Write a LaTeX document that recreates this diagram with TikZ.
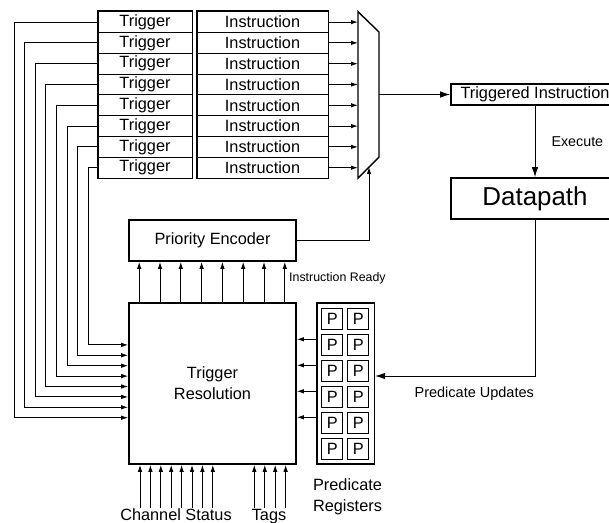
\documentclass[tikz,border=0pt]{standalone}
\usepackage{fontspec}
\setmainfont{Liberation Sans}
\usetikzlibrary{arrows.meta,calc}

\begin{document}
\begin{tikzpicture}[x=1pt, y=-1pt,
    every node/.style={font=\fontsize{16.3}{21}\selectfont},
    cell/.style={draw, line width=1pt, minimum height=20.8pt, inner sep=0pt},
    blk/.style={draw, line width=1.6pt, inner sep=0pt},
    arr/.style={line width=1pt, -{Latex[length=7pt,width=4.5pt]}},
    bigarr/.style={line width=1pt, -{Latex[length=10pt,width=6.5pt]}}]
            \useasboundingbox (0,0) rectangle (609,522);
            \def \h {20.8}
            % trigger and instruction table
            \foreach \k in {1,...,8} {
                \node[cell, minimum width=94pt] (t\k) at (145, 11.7+\h*\k-\h/2) {Trigger};
                \node[cell, minimum width=131pt] (i\k) at (262.5, 11.7+\h*\k-\h/2) {Instruction};
            }
            \draw[line width=1.6pt] (t1.north west) rectangle (t8.south east);
            \draw[line width=1.6pt] (i1.north west) rectangle (i8.south east);
            % mux
            \coordinate (mtl) at (358, 11.7);
            \coordinate (mtr) at (379, 32);
            \coordinate (mbr) at (379, 157);
            \coordinate (mbl) at (358, 178);
            \coordinate (msel) at (369, 167);
            \coordinate (mout) at (379, 94.5);
            \draw[line width=1.4pt] (mtl) -- (mtr) -- (mbr) -- (mbl) -- cycle;
            \foreach \k in {1,...,8}
                \draw[arr] (i\k.east) -- (i\k.east -| mtl);
            % right column
            \node[blk, minimum width=168pt, minimum height=21pt] (ti) at (535, 94.5) {Triggered Instruction};
            \node[blk, minimum width=168pt, minimum height=41pt, font=\fontsize{25.9}{30}\selectfont] (dp) at (535, 198.5) {Datapath};
            \draw[bigarr] (mout) -- (mout -| ti.west);
            \draw[bigarr] (ti) -- node[right=16pt, inner sep=0pt, font=\fontsize{14.3}{17}\selectfont] {Execute} (dp);
            % encoder and resolution
            \node[blk, minimum width=167pt, minimum height=41pt] (pe) at (212.5, 240.5) {Priority Encoder};
            \node[blk, minimum width=167pt, minimum height=161pt, align=center] (tr) at (212.5, 383.5) {Trigger\\Resolution};
            \draw[arr] (pe.east) -| (msel);
            \foreach \j in {1,...,8}
                \draw[arr] ($(tr.north west)+(\h*\j-9.8,0)$) -- ($(pe.south west)+(\h*\j-9.8,0)$);
            \node[anchor=west, inner sep=0pt, font=\fontsize{12.4}{14}\selectfont] (rdy) at (289, 278) {Instruction Ready};
            % trigger feedback
            \foreach \k in {1,...,8} {
                \coordinate (fb\k) at (3.4+10.6*\k, 428.1-10.4*\k);
                \draw[arr] (t\k.west) -| (fb\k) -- (fb\k -| tr.west);
            }
            % bottom inputs
            \foreach \j in {1,...,8} {
                \coordinate (cs\j) at (129.6+10.4*\j, 508);
                \draw[arr] (cs\j) -- (cs\j |- tr.south);
            }
            \foreach \j in {1,...,4} {
                \coordinate (tg\j) at (243.85+10.45*\j, 508);
                \draw[arr] (tg\j) -- (tg\j |- tr.south);
            }
            \node[anchor=base] (cslab) at (176, 520) {Channel Status};
            \node[anchor=base] (tglab) at (269, 520) {Tags};
            % predicate registers
            \node[blk, minimum width=57.6pt, minimum height=161.3pt] (preg) at (345.5, 383.35) {};
            \foreach \r in {1,...,6} {
                \node[cell, minimum width=21pt, minimum height=20.7pt] (pa\r) at (332.2, 292.65+26*\r) {P};
                \node[cell, minimum width=21pt, minimum height=20.7pt] (pb\r) at (358.35, 292.65+26*\r) {P};
            }
            \foreach \j in {1,...,4} {
                \coordinate (pr\j) at (0, 313.3+26*\j);
                \draw[arr] (preg.west |- pr\j) -- (tr.east |- pr\j);
            }
            \node[anchor=north, align=center, inner sep=0pt] (preglab) at (347.5, 478) {Predicate\\Registers};
            \coordinate (pu) at (0, 376);
            \draw[bigarr] (dp.south) |- node[pos=0.69, below=10pt, inner sep=0pt, font=\fontsize{14.5}{17}\selectfont] {Predicate Updates} (preg.east |- pu);
        \end{tikzpicture}
\end{document}
